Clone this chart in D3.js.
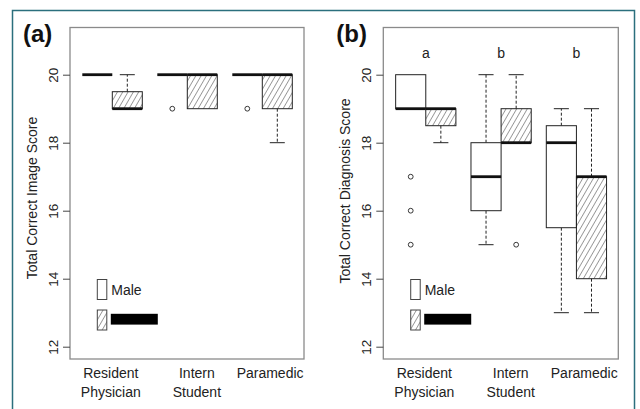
<!DOCTYPE html>
<html><head><meta charset="utf-8">
<script src="https://cdn.jsdelivr.net/npm/d3@7/dist/d3.min.js"></script>
<style>html,body{margin:0;padding:0;background:#fff;}svg{display:block;}</style>
</head><body>
<script>
// ---- data ----
const groups = [["Resident","Physician"],["Intern","Student"],["Paramedic"]];
const genders = ["Male","Female"];
// [lower whisker, Q1, median, Q3, upper whisker]; order: group1 M, group1 F, group2 M, ...
const imageStats = [
  [20,20,20,20,20],[19,19,19,19.5,20],
  [20,20,20,20,20],[19,19,20,20,20],
  [20,20,20,20,20],[18,19,20,20,20]
];
const imageOutliers = [[],[],[19],[],[19],[]];
const diagStats = [
  [19,19,19,20,20],[18,18.5,19,19,19],
  [15,16,17,18,20],[18,18,18,19,20],
  [13,15.5,18,18.5,19],[13,14,17,17,19]
];
const diagOutliers = [[17,16,15],[],[],[15],[],[]];
const diagLetters = ["a","b","b"];
const yTicks = [12,14,16,18,20];

const W=640,H=409;
const svg=d3.select("body").append("svg").attr("width",W).attr("height",H)
  .style("font-family","'Liberation Sans', Arial, sans-serif");

const defs=svg.append("defs");
const pat=defs.append("pattern").attr("id","hatch").attr("patternUnits","userSpaceOnUse")
  .attr("width",4.6).attr("height",10).attr("patternTransform","rotate(30)");
pat.append("line").attr("x1",0).attr("y1",-1).attr("x2",0).attr("y2",11)
  .attr("stroke","#222").attr("stroke-width",0.9);

// outer frame
svg.append("rect").attr("x",12.5).attr("y",10.5).attr("width",622).attr("height",430)
  .attr("fill","none").attr("stroke","#2b6f7d").attr("stroke-width",1.5);

const yS=d3.scaleLinear().domain([12,20]).range([346.7,74.7]);
const plotTop=27.5,plotBottom=359;

function panel(opt){
  const {L,R,stats,outliers,title,tag,letters}=opt;
  const x=d3.scaleLinear().domain([0.09,7.89]).range([L,R]);
  const y=yS;
  const g=svg.append("g");
  stats.forEach((s,i)=>{
    const gi=Math.floor(i/2), si=i%2;
    const pos=1+gi*2.5+si;
    const x0=x(pos-0.5), x1=x(pos+0.5);
    const fill= si===1 ? "url(#hatch)" : "#fff";
    const dash="3,2";
    if(s[4]>s[3]){
      g.append("line").attr("x1",x(pos)).attr("x2",x(pos)).attr("y1",y(s[3])).attr("y2",y(s[4]))
        .attr("stroke","#222").attr("stroke-width",1).attr("stroke-dasharray",dash);
      g.append("line").attr("x1",x(pos-0.25)).attr("x2",x(pos+0.25)).attr("y1",y(s[4])).attr("y2",y(s[4]))
        .attr("stroke","#222").attr("stroke-width",1);
    }
    if(s[0]<s[1]){
      g.append("line").attr("x1",x(pos)).attr("x2",x(pos)).attr("y1",y(s[1])).attr("y2",y(s[0]))
        .attr("stroke","#222").attr("stroke-width",1).attr("stroke-dasharray",dash);
      g.append("line").attr("x1",x(pos-0.25)).attr("x2",x(pos+0.25)).attr("y1",y(s[0])).attr("y2",y(s[0]))
        .attr("stroke","#222").attr("stroke-width",1);
    }
    g.append("rect").attr("x",x0).attr("width",x1-x0).attr("y",y(s[3])).attr("height",Math.max(0,y(s[1])-y(s[3])))
      .attr("fill",fill).attr("stroke","#222").attr("stroke-width",1);
    g.append("line").attr("x1",x0).attr("x2",x1).attr("y1",y(s[2])).attr("y2",y(s[2]))
      .attr("stroke","#111").attr("stroke-width",2.8);
    outliers[i].forEach(v=>{
      g.append("circle").attr("cx",x(pos)).attr("cy",y(v)).attr("r",2.4)
        .attr("fill","none").attr("stroke","#222").attr("stroke-width",0.9);
    });
  });
  g.append("rect").attr("x",L).attr("y",plotTop).attr("width",R-L).attr("height",plotBottom-plotTop)
    .attr("fill","none").attr("stroke","#8a8a8a").attr("stroke-width",1.3);
  const ax=g.append("g").attr("transform",`translate(${L},0)`)
    .call(d3.axisLeft(y).tickValues(yTicks).tickSize(7).tickPadding(3).tickFormat(d3.format("d")));
  ax.select(".domain").remove();
  ax.selectAll(".tick line").attr("stroke","#444");
  ax.selectAll(".tick text").attr("font-size",13.5).attr("fill","#222")
    .attr("text-anchor","middle").attr("dy",0).attr("x",0).attr("y",0)
    .attr("transform","translate(-12,0) rotate(-90)");
  g.append("text").attr("transform",`translate(${L-33.5},${opt.titleY}) rotate(-90)`)
    .attr("text-anchor","middle").attr("font-size",14).attr("fill","#222").text(title);
  const labelPos=[1.45,4.32,6.76];
  groups.forEach((lines,gi)=>{
    lines.forEach((ln,li)=>{
      g.append("text").attr("x",x(labelPos[gi])).attr("y",378+li*18.5)
        .attr("text-anchor","middle").attr("font-size",14).attr("fill","#222").text(ln);
    });
  });
  g.append("text").attr("x",L-47).attr("y",41.5).attr("font-size",24).attr("font-weight","bold")
    .attr("fill","#111").text(tag);
  if(letters){
    letters.forEach((l,gi)=>{
      g.append("text").attr("x",x(1.5+gi*2.5)).attr("y",y(20.5)).attr("text-anchor","middle")
        .attr("font-size",14).attr("fill","#222").text(l);
    });
  }
  const lx=x(1.0);
  g.append("rect").attr("x",lx).attr("y",279.5).attr("width",9.5).attr("height",20)
    .attr("fill","#fff").attr("stroke","#444").attr("stroke-width",1);
  g.append("rect").attr("x",lx).attr("y",310).attr("width",9.5).attr("height",20)
    .attr("fill","url(#hatch)").attr("stroke","#444").attr("stroke-width",1);
  g.append("text").attr("x",lx+14).attr("y",294.5).attr("font-size",14).attr("fill","#222").text(genders[0]);
  g.append("text").attr("x",lx+15).attr("y",323.3).attr("font-size",12.5).attr("fill","#000").text(genders[1]);
  g.append("rect").attr("x",lx+13.5).attr("y",313.8).attr("width",47).attr("height",10.8).attr("fill","#000");
}

panel({L:70,R:304,stats:imageStats,outliers:imageOutliers,title:"Total Correct Image Score",tag:"(a)",titleY:198});
panel({L:383.3,R:618.3,stats:diagStats,outliers:diagOutliers,title:"Total Correct Diagnosis Score",tag:"(b)",titleY:191,letters:diagLetters});
</script>
</body></html>
